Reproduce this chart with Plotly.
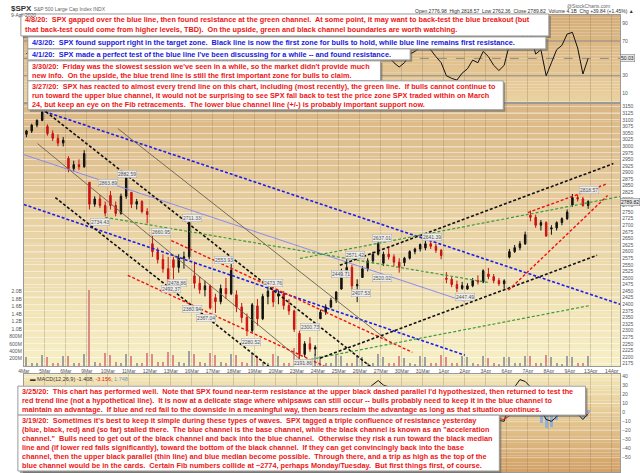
import plotly.graph_objects as go

# ---- data ----
day_labels = ["4Mar", "5Mar", "6Mar", "9Mar", "10Mar", "11Mar", "12Mar", "13Mar", "16Mar", "17Mar",
              "18Mar", "19Mar", "20Mar", "23Mar", "24Mar", "25Mar", "26Mar", "27Mar", "30Mar", "31Mar",
              "1Apr", "2Apr", "3Apr", "6Apr", "7Apr", "8Apr", "9Apr", "13Apr", "14Apr"]
bars_per_day = 4

# intraday bars, one row per trading day (4 Mar .. 9 Apr)
bar_open = [3045, 3058, 3080, 3098,  3075, 3048, 3030, 3012,  2954, 2915, 2930, 2922,
            2863, 2780, 2800, 2775,  2813, 2775, 2745, 2810,  2825, 2780, 2790, 2752,
            2630, 2600, 2570, 2535,  2569, 2540, 2575, 2580,  2508, 2480, 2455, 2470,
            2425, 2410, 2460, 2440,  2436, 2390, 2350, 2300,  2394, 2345, 2430, 2450,
            2431, 2440, 2395, 2375,  2290, 2210, 2250, 2230,  2345, 2370, 2390, 2415,
            2458, 2525, 2540, 2470,  2502, 2535, 2565, 2590,  2556, 2590, 2580, 2560,
            2558, 2575, 2600, 2610,  2614, 2630, 2620, 2605,  2499, 2495, 2475, 2460,
            2458, 2470, 2490, 2485,  2515, 2505, 2490, 2478,  2579, 2600, 2615, 2630,
            2738, 2730, 2700, 2710,  2686, 2690, 2710, 2725,  2776.98, 2805, 2800, 2775]
bar_high = [3062, 3085, 3102, 3131,  3083, 3060, 3045, 3035,  2962, 2945, 2950, 2985,
            2863, 2810, 2815, 2790,  2830, 2790, 2820, 2882,  2825, 2800, 2795, 2765,
            2660, 2615, 2590, 2580,  2580, 2590, 2600, 2711,  2562, 2505, 2490, 2475,
            2440, 2475, 2500, 2553,  2453, 2405, 2365, 2405,  2420, 2440, 2473, 2455,
            2453, 2450, 2420, 2380,  2300, 2260, 2275, 2245,  2380, 2400, 2425, 2449,
            2535, 2571, 2550, 2495,  2545, 2575, 2600, 2637,  2600, 2615, 2590, 2575,
            2580, 2605, 2615, 2631,  2641, 2638, 2630, 2610,  2522, 2505, 2490, 2485,
            2480, 2500, 2510, 2533,  2538, 2515, 2500, 2495,  2610, 2625, 2640, 2676,
            2756, 2740, 2720, 2715,  2700, 2715, 2730, 2760,  2818.57, 2815, 2808, 2795]
bar_low = [3034, 3050, 3072, 3095,  3040, 3020, 3000, 2999,  2901, 2905, 2910, 2918,
           2760, 2770, 2765, 2734,  2760, 2734, 2740, 2800,  2765, 2760, 2745, 2707,
           2580, 2555, 2520, 2478,  2492, 2520, 2535, 2570,  2460, 2440, 2430, 2380,
           2367, 2400, 2420, 2435,  2370, 2330, 2280, 2295,  2319, 2340, 2400, 2390,
           2400, 2380, 2360, 2295,  2192, 2200, 2220, 2205,  2345, 2360, 2385, 2405,
           2455, 2500, 2450, 2408,  2500, 2525, 2555, 2585,  2545, 2570, 2545, 2520,
           2545, 2570, 2590, 2600,  2605, 2610, 2595, 2571,  2480, 2465, 2447, 2455,
           2455, 2465, 2475, 2480,  2495, 2480, 2470, 2459,  2574, 2595, 2605, 2625,
           2715, 2690, 2680, 2657,  2664, 2680, 2700, 2720,  2770, 2790, 2770, 2762.36]
bar_close = [3058, 3080, 3098, 3130,  3048, 3030, 3012, 3023,  2915, 2930, 2922, 2972,
             2780, 2800, 2775, 2746,  2775, 2745, 2810, 2882,  2780, 2790, 2752, 2741,
             2600, 2570, 2535, 2480,  2540, 2575, 2580, 2711,  2480, 2455, 2470, 2386,
             2410, 2460, 2440, 2529,  2390, 2350, 2300, 2398,  2345, 2430, 2450, 2409,
             2440, 2395, 2375, 2305,  2210, 2250, 2230, 2237,  2370, 2390, 2415, 2447,
             2525, 2540, 2470, 2475,  2535, 2565, 2590, 2630,  2590, 2580, 2560, 2541,
             2575, 2600, 2610, 2627,  2630, 2620, 2605, 2585,  2495, 2475, 2460, 2471,
             2470, 2490, 2485, 2527,  2505, 2490, 2478, 2489,  2600, 2615, 2630, 2664,
             2730, 2700, 2710, 2659,  2690, 2710, 2725, 2750,  2805, 2800, 2775, 2789.82]
volume_m = [240, 95, 85, 300,  260, 90, 80, 280,  290, 100, 90, 330,  2050, 120, 100, 360,
            300, 110, 95, 340,  280, 100, 90, 350,  320, 120, 110, 380,  300, 110, 100, 420,
            330, 120, 100, 360,  300, 110, 100, 340,  310, 115, 105, 350,  290, 110, 95, 330,
            270, 105, 100, 480,  300, 110, 90, 320,  280, 100, 90, 300,  290, 105, 95, 310,
            260, 95, 85, 320,  250, 90, 80, 280,  230, 85, 75, 270,  240, 85, 80, 300,
            250, 90, 80, 270,  240, 85, 75, 280,  230, 80, 75, 260,  250, 85, 80, 290,
            270, 90, 80, 300,  240, 80, 75, 270,  250, 85, 80, 290]
rsi = [55, 62, 68, 75,  55, 45, 40, 44,  30, 38, 35, 50,  25, 38, 35, 30,  45, 36, 52, 65,
       50, 55, 45, 42,  25, 22, 20, 18,  40, 45, 47, 65,  35, 33, 38, 28,  38, 50, 45, 60,
       42, 36, 30, 52,  50, 58, 60, 52,  58, 48, 45, 34,  33, 42, 38, 40,  58, 62, 66, 70,
       72, 75, 55, 56,  60, 66, 70, 75,  55, 52, 45, 40,  45, 55, 58, 63,  65, 60, 52, 45,
       30, 27, 25, 33,  38, 48, 45, 58,  52, 42, 36, 42,  66, 68, 72, 78,  78, 55, 60, 30,
       45, 60, 65, 78,  80, 62, 32, 50.03]
macd = [5, 10, 15, 20,  15, 8, 0, -5,  -15, -20, -25, -22,  -40, -45, -48, -50,
        -48, -50, -42, -30,  -28, -25, -30, -33,  -45, -52, -58, -62,  -55, -50, -45, -30,
        -38, -42, -45, -50,  -50, -45, -40, -30,  -32, -38, -45, -42,  -40, -32, -25, -26,
        -22, -24, -26, -32,  -40, -38, -36, -35,  -20, -10, 0, 10,  20, 28, 25, 20,
        22, 26, 30, 35,  30, 28, 22, 15,  14, 16, 18, 20,  20, 18, 15, 10,
        -5, -12, -18, -20,  -20, -16, -12, -5,  -4, -6, -9, -10,  12, 28, 36, 34,
        28, 14, 2, -8,  -10, -5, 3, 8,  6, -2, -8, -1.408]
macd_signal = [0, 3, 6, 9,  10, 10, 8, 5,  1, -3, -8, -11,  -17, -23, -28, -33,
               -37, -40, -41, -39,  -37, -35, -34, -34,  -36, -40, -44, -48,  -50, -50, -49, -45,
               -44, -44, -44, -45,  -46, -46, -45, -42,  -40, -40, -41, -41,  -41, -39, -36, -34,
               -32, -30, -29, -30,  -32, -33, -34, -34,  -31, -27, -22, -15,  -8, 0, 5, 8,
               11, 14, 17, 21,  23, 24, 24, 22,  20, 19, 19, 19,  19, 19, 18, 17,
               13, 8, 3, -2,  -5, -7, -8, -7,  -7, -7, -7, -8,  -4, 2, 9, 14,
               17, 17, 14, 10,  6, 4, 3, 4,  4, 2, -1, -3.156]

# hand-drawn trend lines, in (bar index, price) coordinates
line_x0 = [3.5, -0.5, -0.5, 3.7, 17.4, 2.1, 5.5, 27.6, 19.3, 15.0, 52.3, 55.9, 91.8, 59.7, 52.1, 95.5]
line_p0 = [3131, 2779, 2968, 3131, 3067, 3010, 2805, 2642, 2510, 2730, 2184, 2195, 2453, 2548, 2574, 2748]
line_x1 = [113.1, 83.5, 83.5, 65.9, 68.7, 53.5, 50.7, 73.5, 57.5, 87.9, 107.5, 108.7, 110.7, 111.8, 113.1, 110.7]
line_p1 = [2400, 2207, 2411, 2158, 2264, 2169, 2093, 2218, 2158, 2483, 2396, 2586, 2813, 2934, 2809, 2858]
line_kind = ["blue", "blue", "lightblue", "black", "thin", "thin", "black", "red", "red",
             "green", "green", "black", "red", "black", "green", "red"]

# price callouts (bar index, price, text)
label_x = [19.1, 15.5, 14.0, 25.7, 31.6, 28.7, 27.6, 31.6, 37.6, 34.2, 42.7, 47.0, 54.0, 52.7,
           59.9, 63.7, 62.5, 67.8, 67.8, 77.2, 83.5, 107.1]
label_p = [2896, 2862, 2714, 2673, 2726, 2480, 2457, 2381, 2567, 2347, 2256, 2480, 2313, 2176,
           2514, 2442, 2586, 2498, 2650, 2654, 2427, 2832]
label_text = ["2882.59", "2863.89", "2734.43", "2660.95", "2711.33", "2478.86", "2492.37", "2380.94",
              "2553.93", "2367.04", "2280.52", "2473.76", "2300.73", "2191.86", "2449.71", "2407.53",
              "2571.42", "2520.02", "2637.01", "2641.39", "2447.49", "2818.57"]

vol_ticks = [200, 400, 600, 800, 1000, 1200, 1400, 1600, 1800, 2000]
vol_tick_text = ["200M", "400M", "600M", "800M", "1.0B", "1.2B", "1.4B", "1.6B", "1.8B", "2.0B"]

notes = [
    dict(box=(15, 13, 548, 35), color="red", lines=[
        "4/8/20:  SPX gapped over the blue line, then found resistance at the green channel.  At some point, it may want to back-test the blue breakout (but",
        "that back-test could come from higher levels, TBD).  On the upside, green and black channel boundaries are worth watching."]),
    dict(box=(22, 36, 545, 48), color="blue", lines=[
        "4/3/20:  SPX found support right in the target zone.  Black line is now the first zone for bulls to hold, while blue line remains first resistance."]),
    dict(box=(22, 48, 408, 59), color="blue", lines=[
        "4/1/20:  SPX made a perfect test of the blue line I've been discussing for a while -- and found resistance."]),
    dict(box=(22, 60, 378, 80), color="red", lines=[
        "3/30/20:  Friday was the slowest session we've seen in a while, so the market didn't provide much",
        "new info.  On the upside, the blue trend line is still the first important zone for bulls to claim."]),
    dict(box=(22, 80, 502, 109), color="red", lines=[
        "3/27/20:  SPX has reacted to almost every trend line on this chart, including (most recently), the green line.  If bulls cannot continue to",
        "run toward the upper blue channel, it would not be surprising to see SPX fall back to test the price zone SPX traded within on March",
        "24, but keep an eye on the Fib retracements.  The lower blue channel line (+/-) is probably important support now."]),
    dict(box=(12, 386, 585, 415), color="red", lines=[
        "3/25/20:  This chart has performed well.  Note that SPX found near-term resistance at the upper black dashed parallel I'd hypothesized, then returned to test the",
        "red trend line (not a hypothetical line).  It is now at a delicate stage where whipsaws can still occur -- bulls probably need to keep it in the blue channel to",
        "maintain an advantage.  If blue and red fail to the downside in a meaningful way, then bears reclaim the advantage as long as that situation continues."]),
    dict(box=(12, 415, 498, 471), color="red", lines=[
        "3/19/20:  Sometimes it's best to keep it simple during these types of waves.  SPX tagged a triple confluence of resistance yesterday",
        "(blue, black, red) and (so far) stalled there.  The blue channel is the base channel, while the black channel is known as an \"acceleration",
        "channel.\"  Bulls need to get out of the black channel and back into the blue channel.  Otherwise they risk a run toward the black median",
        "line and (if lower red fails significantly), toward the bottom of the black channel.  If they can get convincingly back into the base",
        "channel, then the upper black parallel (thin line) and blue median become possible.  Through there, and a trip as high as the top of the",
        "blue channel would be in the cards.  Certain Fib numbers collide at ~2774, perhaps Monday/Tuesday.  But first things first, of course."]),
]

# ---- page geometry (pixels of the 640x473 page) ----
W, H = 640, 473
PX_L, PX_R = 18, 620
price_px = (103, 366)
rsi_px = (14, 101)
macd_px = (374, 472)
FONT = "Liberation Sans, Arial, sans-serif"
NOTE_SIZE = 7.3


def px_x(p):
    return p / W


def px_y(p):
    return 1 - p / H


def dom(px):
    return [px_y(px[1]), px_y(px[0])]


def mix(c0, c1, t):
    a = [int(c0[i:i + 2], 16) for i in (1, 3, 5)]
    b = [int(c1[i:i + 2], 16) for i in (1, 3, 5)]
    return "rgb(%d,%d,%d)" % tuple(round(a[k] + (b[k] - a[k]) * t) for k in range(3))


n_bars = len(bar_close)
bar_x = list(range(n_bars))
x_range = [-0.5, 113.1]
day_ticks = [d * bars_per_day - 0.5 for d in range(len(day_labels))]

fig = go.Figure()

vol_colors = ["#a0a0a0" if c >= o else "#dc8a8a" for o, c in zip(bar_open, bar_close)]
fig.add_trace(go.Bar(x=bar_x, y=volume_m, marker=dict(color=vol_colors, line=dict(width=0)),
                     width=0.3, xaxis="x", yaxis="y", hoverinfo="skip"))

fig.add_trace(go.Candlestick(x=bar_x, open=bar_open, high=bar_high, low=bar_low, close=bar_close,
                             increasing=dict(line=dict(color="#111111", width=1), fillcolor="#111111"),
                             decreasing=dict(line=dict(color="#cc1010", width=1), fillcolor="#cc1010"),
                             whiskerwidth=0, xaxis="x", yaxis="y2", hoverinfo="skip"))

styles = {
    "blue": dict(color="#1c1cf0", width=1.6, dash="3px,2px"),
    "lightblue": dict(color="#8a8af5", width=1, dash="solid"),
    "black": dict(color="#111111", width=1.6, dash="3px,2px"),
    "thin": dict(color="#6b6050", width=0.9, dash="solid"),
    "red": dict(color="#f01010", width=1.4, dash="3px,2px"),
    "green": dict(color="#3d9a3d", width=1.2, dash="3px,2px"),
}
for x0, p0, x1, p1, kind in zip(line_x0, line_p0, line_x1, line_p1, line_kind):
    fig.add_trace(go.Scatter(x=[x0, x1], y=[p0, p1], mode="lines", line=styles[kind],
                             xaxis="x", yaxis="y2", hoverinfo="skip"))

fig.add_trace(go.Scatter(x=bar_x, y=rsi, mode="lines", line=dict(color="#111111", width=1),
                         xaxis="x2", yaxis="y3", hoverinfo="skip"))

hist = [m - s for m, s in zip(macd, macd_signal)]
fig.add_trace(go.Bar(x=bar_x, y=hist, marker=dict(color="#8fb0d8", line=dict(width=0)), width=0.6,
                     xaxis="x3", yaxis="y4", hoverinfo="skip"))
fig.add_trace(go.Scatter(x=bar_x, y=macd, mode="lines", line=dict(color="#111111", width=1),
                         xaxis="x3", yaxis="y4", hoverinfo="skip"))
fig.add_trace(go.Scatter(x=bar_x, y=macd_signal, mode="lines", line=dict(color="#e01818", width=1),
                         xaxis="x3", yaxis="y4", hoverinfo="skip"))

shapes = []
for (top, bot), c0, c1 in [(price_px, "#dbb886", "#f7efc4"), (rsi_px, "#d5ad78", "#ead1a0"),
                           (macd_px, "#f3e6b6", "#d2a268")]:
    n = 30
    for i in range(n):
        y0 = top + (bot - top) * i / n
        y1 = top + (bot - top) * (i + 1) / n
        shapes.append(dict(type="rect", xref="paper", yref="paper", x0=px_x(PX_L), x1=px_x(PX_R),
                           y0=px_y(y1), y1=px_y(y0), fillcolor=mix(c0, c1, i / (n - 1)),
                           line=dict(width=0), layer="below"))
for lvl, dash in [(70, "solid"), (30, "solid"), (50, "dash")]:
    shapes.append(dict(type="line", xref="x2 domain", yref="y3", x0=0, x1=1, y0=lvl, y1=lvl,
                       line=dict(color="#8a8a8a", width=1, dash=dash), layer="below"))

annotations = []
for note in notes:
    l, t, r, b = note["box"]
    shapes.append(dict(type="rect", xref="paper", yref="paper", x0=px_x(l + 2), x1=px_x(r + 2),
                       y0=px_y(b + 2), y1=px_y(t + 2), fillcolor="rgba(90,90,90,0.55)",
                       line=dict(width=0), layer="above"))
    shapes.append(dict(type="rect", xref="paper", yref="paper", x0=px_x(l), x1=px_x(r),
                       y0=px_y(b), y1=px_y(t), fillcolor="white",
                       line=dict(color="#9a9a9a", width=1), layer="above"))
    col = "#ee1515" if note["color"] == "red" else "#1818dd"
    step = (b - t - 2) / len(note["lines"])
    for i, ln in enumerate(note["lines"]):
        annotations.append(dict(xref="paper", yref="paper", x=px_x(l + 2), y=px_y(t + 1 + (i + 0.5) * step),
                                xanchor="left", yanchor="middle", text="<b>" + ln + "</b>",
                                showarrow=False, font=dict(family=FONT, size=NOTE_SIZE, color=col)))

for x, p, txt in zip(label_x, label_p, label_text):
    annotations.append(dict(xref="x", yref="y2", x=x, y=p, text=txt, showarrow=False,
                            bgcolor="rgba(238,238,238,0.9)", bordercolor="#a8a8a8", borderwidth=0.5,
                            borderpad=0.5, font=dict(family=FONT, size=5, color="#555555")))

# header and readouts
annotations += [
    dict(xref="paper", yref="paper", x=px_x(3), y=px_y(1), xanchor="left", yanchor="top", showarrow=False,
         text="<b>$SPX</b> <span style='font-size:5px;color:#666'>S&amp;P 500 Large Cap Index INDX</span>",
         font=dict(family=FONT, size=8, color="#333333")),
    dict(xref="paper", yref="paper", x=px_x(3), y=px_y(9), xanchor="left", yanchor="top", showarrow=False,
         text="9-Apr-2020", font=dict(family=FONT, size=5, color="#555555")),
    dict(xref="paper", yref="paper", x=px_x(612), y=px_y(0), xanchor="right", yanchor="top", showarrow=False,
         text="@StockCharts.com", font=dict(family=FONT, size=5, color="#666666")),
    dict(xref="paper", yref="paper", x=px_x(636), y=px_y(5), xanchor="right", yanchor="top", showarrow=False,
         text="Open 2776.98  High 2818.57  Low 2762.36  Close 2789.82  Volume 4.1B  Chg +39.84 (+1.45%) \u25b2",
         font=dict(family=FONT, size=5, color="#333333")),
    dict(xref="paper", yref="y2", x=px_x(PX_R), y=bar_close[-1], xanchor="left", showarrow=False,
         text="%.2f" % bar_close[-1], bgcolor="#e8e8e8", bordercolor="#777777", borderwidth=0.5, borderpad=0.5,
         font=dict(family=FONT, size=5, color="#222222")),
    dict(xref="paper", yref="y3", x=px_x(PX_R), y=rsi[-1], xanchor="left", showarrow=False,
         text="%.2f" % rsi[-1], bgcolor="#e8e8e8", bordercolor="#777777", borderwidth=0.5, borderpad=0.5,
         font=dict(family=FONT, size=5, color="#222222")),
    dict(xref="paper", yref="paper", x=px_x(22), y=px_y(374), xanchor="left", yanchor="top", showarrow=False,
         text="\u25ac MACD(12,26,9) %.3f, <span style='color:#e01818'>%.3f</span>, "
              "<span style='color:#6f95c8'>%.3f</span>" % (macd[-1], macd_signal[-1], hist[-1]),
         font=dict(family=FONT, size=5.5, color="#333333")),
]

axis_common = dict(showline=True, linecolor="#9a9a9a", linewidth=1, mirror=True, ticks="", zeroline=False,
                   tickfont=dict(family=FONT, size=5, color="#555555"))
grid_x = dict(showgrid=True, gridcolor="rgba(140,120,90,0.30)", gridwidth=1, tickvals=day_ticks,
              range=x_range, domain=[px_x(PX_L), px_x(PX_R)])

fig.update_layout(
    width=W, height=H, margin=dict(l=0, r=0, t=0, b=0), showlegend=False,
    paper_bgcolor="white", plot_bgcolor="rgba(0,0,0,0)", bargap=0, boxgap=0.6,
    xaxis=dict(**axis_common, **grid_x, anchor="y", ticktext=day_labels, showticklabels=True,
               rangeslider=dict(visible=False)),
    yaxis=dict(**axis_common, domain=dom(price_px), range=[0, 7010], side="left", tickvals=vol_ticks,
               ticktext=vol_tick_text, showgrid=False),
    yaxis2=dict(**axis_common, domain=dom(price_px), range=[2165, 3161], side="right", overlaying="y",
                anchor="x", tickvals=list(range(2175, 3151, 25)), showgrid=True,
                gridcolor="rgba(255,255,255,0.45)"),
    xaxis2=dict(**axis_common, **grid_x, anchor="y3", matches="x", showticklabels=False),
    yaxis3=dict(**axis_common, domain=dom(rsi_px), range=[0, 100], side="right", anchor="x2",
                tickvals=[10, 30, 50, 70, 90], showgrid=False),
    xaxis3=dict(**axis_common, **grid_x, anchor="y4", matches="x", showticklabels=False),
    yaxis4=dict(**axis_common, domain=dom(macd_px), range=[-66, 42], side="right", anchor="x3",
                tickvals=list(range(-50, 41, 10)), showgrid=True, gridcolor="rgba(255,255,255,0.35)"),
    shapes=shapes, annotations=annotations,
)

# the page's default 8px body margin would push the 640x473 figure off the window;
# the mode bar would wash out the top-right corner of the picture
fig.write_html("out.html", config={"displayModeBar": False},
               post_script="document.body.style.margin='0px';")
